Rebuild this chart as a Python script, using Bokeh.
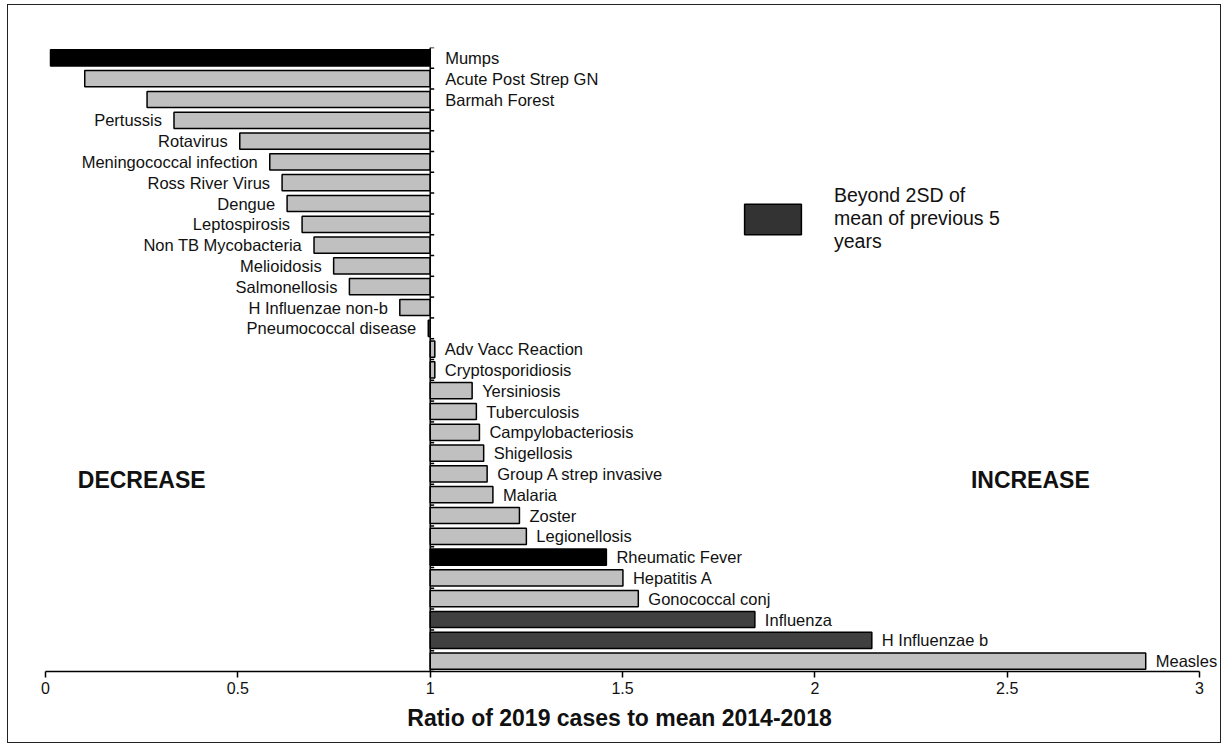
from bokeh.plotting import figure
from bokeh.models import ColumnDataSource, Range1d, FixedTicker, Label, Legend, LegendItem
from bokeh.core.properties import value
from bokeh.embed import file_html
from bokeh.resources import INLINE

# ---------------- data ----------------
diseases = ["Mumps", "Acute Post Strep GN", "Barmah Forest", "Pertussis", "Rotavirus",
            "Meningococcal infection", "Ross River Virus", "Dengue", "Leptospirosis",
            "Non TB Mycobacteria", "Melioidosis", "Salmonellosis", "H Influenzae non-b",
            "Pneumococcal disease", "Adv Vacc Reaction", "Cryptosporidiosis", "Yersiniosis",
            "Tuberculosis", "Campylobacteriosis", "Shigellosis", "Group A strep invasive",
            "Malaria", "Zoster", "Legionellosis", "Rheumatic Fever", "Hepatitis A",
            "Gonococcal conj", "Influenza", "H Influenzae b", "Measles"]
ratios = [0.013, 0.102, 0.264, 0.334, 0.505, 0.583, 0.615, 0.628, 0.667, 0.698,
          0.749, 0.790, 0.921, 0.995, 1.012, 1.012, 1.109, 1.120, 1.128, 1.139,
          1.148, 1.163, 1.232, 1.250, 1.458, 1.501, 1.541, 1.844, 2.148, 2.860]
# bar shading group: "black", "dark" (beyond 2SD) or "normal"
groups = ["black", "normal", "normal", "normal", "normal", "normal", "normal", "normal",
          "normal", "normal", "normal", "normal", "normal", "normal", "normal", "normal",
          "normal", "normal", "normal", "normal", "normal", "normal", "normal", "normal",
          "black", "normal", "normal", "dark", "dark", "normal"]
tick_values = [0, 0.5, 1, 1.5, 2, 2.5, 3]
tick_labels = ["0", "0.5", "1", "1.5", "2", "2.5", "3"]
x_title = "Ratio of 2019 cases to mean 2014-2018"
legend_text = "Beyond 2SD of\nmean of previous 5\nyears"

# ---------------- styling ----------------
FONT = "Liberation Sans"
COLORS = {"black": "#000000", "dark": "#404040", "normal": "#c0c0c0"}
BASE = 1.0
n = len(diseases)

rows = list(range(n))
colors = [COLORS[g] for g in groups]
lab_x, lab_align, lab_off = [], [], []
for r in ratios:
    if r < 0.3:
        lab_x.append(BASE); lab_align.append("left"); lab_off.append(15)
    elif r < BASE:
        lab_x.append(r); lab_align.append("right"); lab_off.append(-12)
    else:
        lab_x.append(r); lab_align.append("left"); lab_off.append(10)

src = ColumnDataSource(dict(y=rows, ratio=ratios, color=colors, name=diseases,
                            lx=lab_x, la=lab_align, lo=lab_off))

p = figure(width=1214, height=739, output_backend="svg", toolbar_location=None,
           x_range=Range1d(-0.0754, 3.0596), y_range=Range1d(n - 0.5, -0.5),
           min_border_left=8, min_border_right=0, min_border_top=42, min_border_bottom=73)
p.styles = {"border": "1px solid #222222", "margin-left": "7px", "margin-top": "4px"}
p.outline_line_color = None
p.xgrid.visible = False
p.ygrid.visible = False
p.yaxis.visible = False

p.hbar(y="y", left=BASE, right="ratio", height=0.78, fill_color="color",
       line_color="black", line_width=1.5, source=src)

# category axis at x = 1
p.segment(x0=[BASE], y0=[-0.5], x1=[BASE], y1=[n - 0.5], line_color="black", line_width=1.5)
p.ray(x=[BASE] * (n + 1), y=[i - 0.5 for i in range(n + 1)], length=4, angle=0,
      length_units="screen", line_color="black", line_width=1.5)

p.text(x="lx", y="y", text="name", text_align="la", x_offset="lo", text_baseline="middle",
       text_font=value(FONT), text_font_size="16.5px", text_color="#111111", source=src)

xa = p.xaxis[0]
xa.ticker = FixedTicker(ticks=tick_values)
xa.major_label_overrides = {v: l for v, l in zip(tick_values, tick_labels)}
xa.bounds = (0, 3)
xa.minor_tick_line_color = None
xa.major_tick_in = 0
xa.major_tick_out = 6
xa.axis_line_width = 1.5
xa.major_tick_line_width = 1.5
xa.major_label_text_font = FONT
xa.major_label_text_font_size = "16px"
xa.major_label_text_color = "#111111"
xa.major_label_standoff = 4
xa.axis_label = x_title
xa.axis_label_text_font = FONT
xa.axis_label_text_font_size = "23px"
xa.axis_label_text_font_style = "bold"
xa.axis_label_text_color = "#111111"
xa.axis_label_standoff = 8

for txt, xv in (("DECREASE", 0.25), ("INCREASE", 2.56)):
    p.add_layout(Label(x=xv, y=20.3, text=txt, text_align="center", text_baseline="middle",
                       text_font=FONT, text_font_size="23px", text_font_style="bold",
                       text_color="#111111"))

leg_src = ColumnDataSource(dict(y=[float("nan")], left=[float("nan")], right=[float("nan")]))
leg_r = p.hbar(y="y", left="left", right="right", height=0.78, fill_color="#333333",
               line_color="black", line_width=1.5, source=leg_src)
legend = Legend(items=[LegendItem(label=legend_text, renderers=[leg_r])],
                location=(721, 418), glyph_width=71, glyph_height=38, label_standoff=26,
                label_text_font=FONT, label_text_font_size="19.5px",
                label_text_line_height=1.15, label_text_color="#111111",
                padding=0, margin=0, border_line_color=None, background_fill_alpha=0)
p.add_layout(legend)

open("out.html", "w").write(file_html(p, INLINE))
